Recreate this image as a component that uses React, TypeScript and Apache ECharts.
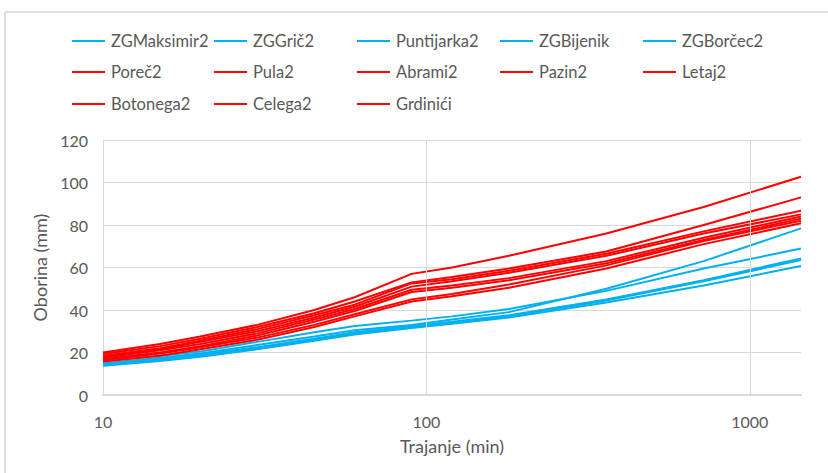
import React, { useEffect, useRef } from "react";
import * as echarts from "echarts";

// Trajanje (min)
const durations = [10, 15, 20, 30, 45, 60, 90, 120, 180, 360, 720, 1440];

// Zagreb stations (blue)
const zgMaksimir2 = [14.5, 17, 19, 22.5, 26.5, 29.5, 32.5, 34.5, 37.5, 45, 54, 64.3];
const zgGric2 = [16, 18.5, 20.5, 25, 29.5, 32.5, 35, 37, 40.5, 49, 59.5, 68.9];
const puntijarka2 = [15, 17.5, 19.5, 23.5, 27.5, 30.5, 33, 35.5, 39, 50, 63, 78.4];
const zgBijenik = [14, 16.5, 18.5, 22, 26, 29, 32, 34, 37, 44.5, 53.5, 63.5];
const zgBorcec2 = [13.8, 16, 18, 21.5, 25.5, 28.5, 31.5, 33.5, 36.5, 43.5, 51.5, 60.7];

// Istria stations (red)
const porec2 = [20, 24, 27.5, 33, 40, 46, 57, 60, 65.5, 76, 88.5, 102.7];
const pula2 = [19.3, 23, 26.5, 32, 38.5, 44, 53, 55.5, 59.5, 67.5, 80, 93];
const abrami2 = [18.5, 22, 25.5, 31, 37.5, 42.5, 52.5, 54.5, 58.5, 66.5, 77, 86.7];
const pazin2 = [18, 21.5, 25, 30, 36.5, 41.5, 51, 53.5, 57.5, 65.5, 76, 85];
const letaj2 = [17.5, 21, 24, 29, 35.5, 40.5, 49.5, 51.5, 55, 63, 74, 84];
const botonega2 = [17, 20, 23, 28, 34.5, 39.5, 48.5, 50.5, 54, 62, 73, 83];
const celega2 = [16.5, 19.5, 22.5, 27, 33, 38, 45, 47.5, 52, 61, 72.5, 82];
const grdinici = [15.8, 18.5, 21.5, 26, 32, 37, 44, 46.5, 50.5, 59.5, 71, 80.8];

const blueSeries: [string, number[]][] = [
  ["ZGMaksimir2", zgMaksimir2],
  ["ZGGrič2", zgGric2],
  ["Puntijarka2", puntijarka2],
  ["ZGBijenik", zgBijenik],
  ["ZGBorčec2", zgBorcec2],
];
const redSeries: [string, number[]][] = [
  ["Poreč2", porec2],
  ["Pula2", pula2],
  ["Abrami2", abrami2],
  ["Pazin2", pazin2],
  ["Letaj2", letaj2],
  ["Botonega2", botonega2],
  ["Celega2", celega2],
  ["Grdinići", grdinici],
];

const xTickLabels = [10, 100, 1000];
const yTicks = { min: 0, max: 120, interval: 20 };

const BLUE = "#00B0F0";
const RED = "#FF0000";
const TEXT = "#595959";
const GRID = "#D9D9D9";
const FONT = "Lato, 'Liberation Sans', sans-serif";

export default function App() {
  const ref = useRef<HTMLDivElement>(null);
  useEffect(() => {
    if (!ref.current) return;
    const chart = echarts.init(ref.current, undefined, { renderer: "svg" });
    const all = [
      ...blueSeries.map(([n, d]) => ({ n, d, c: BLUE })),
      ...redSeries.map(([n, d]) => ({ n, d, c: RED })),
    ];
    const colLeft = [72, 214, 357, 500, 643];
    const rowTop = [30, 61, 93];
    const legends = all.map((s, i) => ({
      data: [s.n],
      left: colLeft[i % 5],
      top: rowTop[Math.floor(i / 5)],
      icon: "rect",
      itemWidth: 33,
      itemHeight: 2,
      itemGap: 0,
      padding: 0,
      selectedMode: false,
      textStyle: { color: TEXT, fontSize: 16.5, fontFamily: FONT, lineHeight: 22, padding: [0, 0, 0, 1] },
    }));
    const series: any[] = all.map((s) => ({
      name: s.n,
      type: "line",
      data: durations.map((t, j) => [t, s.d[j]]),
      showSymbol: false,
      symbol: "none",
      color: s.c,
      lineStyle: { color: s.c, width: 2 },
      z: 3,
      silent: true,
    }));
    series.push({
      name: "_grid",
      type: "line",
      data: [],
      z: 1,
      silent: true,
      markLine: {
        silent: true,
        symbol: "none",
        label: { show: false },
        lineStyle: { color: GRID, width: 1, type: "solid" },
        data: xTickLabels.filter((v) => v > durations[0]).map((v) => ({ xAxis: v })),
      },
    });
    chart.setOption({
      animation: false,
      backgroundColor: "#fff",
      graphic: [
        {
          type: "rect",
          shape: { x: 5, y: 12, width: 840, height: 480 },
          style: { fill: "none", stroke: "#BFBFBF", lineWidth: 1 },
          silent: true,
        },
      ],
      legend: legends,
      grid: { left: 103, top: 140, width: 698, height: 255, containLabel: false },
      xAxis: {
        type: "log",
        logBase: 10,
        min: durations[0],
        max: durations[durations.length - 1],
        name: "Trajanje (min)",
        nameLocation: "middle",
        nameGap: 42,
        nameTextStyle: { color: TEXT, fontSize: 18, fontFamily: FONT },
        axisLine: { show: true, lineStyle: { color: GRID, width: 2 } },
        axisTick: { show: false },
        splitLine: { show: false },
        axisLabel: {
          color: TEXT,
          fontSize: 16,
          fontFamily: FONT,
          margin: 18,
          formatter: (v: number) => {
            const r = Math.round(v);
            return xTickLabels.includes(r) ? String(r) : "";
          },
        },
      },
      yAxis: {
        type: "value",
        min: yTicks.min,
        max: yTicks.max,
        interval: yTicks.interval,
        name: "Oborina (mm)",
        nameLocation: "middle",
        nameRotate: 90,
        nameGap: 48,
        nameTextStyle: { color: TEXT, fontSize: 18, fontFamily: FONT },
        axisLine: { show: true, lineStyle: { color: GRID, width: 1 } },
        axisTick: { show: false },
        splitLine: { show: true, lineStyle: { color: GRID, width: 1 } },
        axisLabel: { color: TEXT, fontSize: 16, fontFamily: FONT, margin: 15 },
      },
      series,
    });
    return () => chart.dispose();
  }, []);
  return (
    <div
      ref={ref}
      style={{ position: "fixed", left: 0, top: 0, width: 828, height: 473 }}
    />
  );
}
